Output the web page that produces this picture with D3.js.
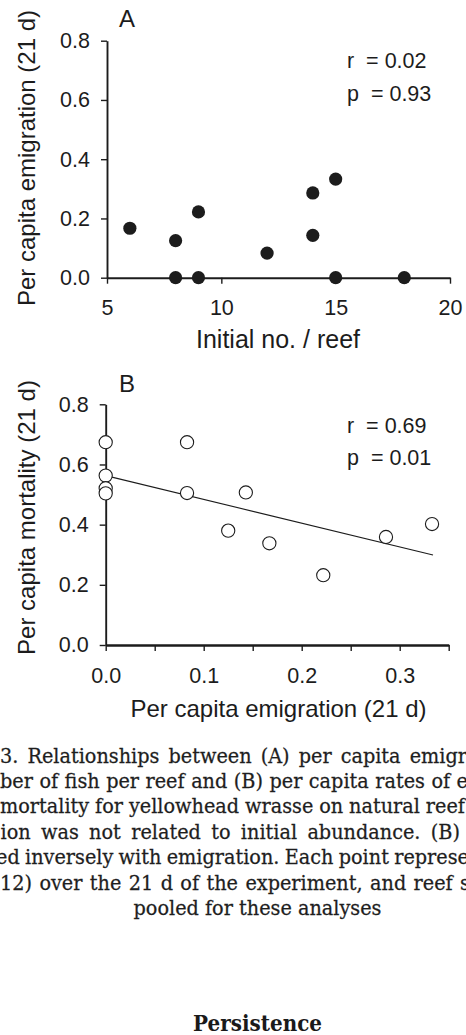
<!DOCTYPE html>
<html><head><meta charset="utf-8">
<script src="https://cdn.jsdelivr.net/npm/d3@7"></script>
<style>
html,body{margin:0;padding:0;background:#fff;overflow:hidden;}
svg{display:block;}
</style></head><body>
<svg id="chart" width="466" height="1035"></svg>
<script>
// ---------- data ----------
// Panel A: per capita emigration vs initial number per reef
const initialNo   = [6, 8, 8, 9, 9, 12, 14, 14, 15, 15, 18];
const emigrationA = [0.167, 0.125, 0, 0.222, 0, 0.083, 0.286, 0.143, 0.333, 0, 0];
// Panel B: per capita mortality vs per capita emigration
const emigrationB = [0, 0, 0, 0, 0.083, 0.083, 0.125, 0.143, 0.167, 0.222, 0.286, 0.333];
const mortalityB  = [0.674, 0.563, 0.521, 0.504, 0.674, 0.505, 0.380, 0.507, 0.338, 0.232, 0.359, 0.402];
// fitted regression line
const fitX = [0, 0.334];
const fitY = [0.563, 0.299];
// ticks
const yTicks   = [0, 0.2, 0.4, 0.6, 0.8];
const xTicksA  = [5, 10, 15, 20];
const xTicksB  = [0, 0.1, 0.2, 0.3];
const xMinorB  = [0.05, 0.15, 0.25, 0.35];
// texts
const statsA = ["r  = 0.02", "p  = 0.93"];
const statsB = ["r  = 0.69", "p  = 0.01"];
const yTitleA = "Per capita emigration (21 d)";
const xTitleA = "Initial no. / reef";
const yTitleB = "Per capita mortality (21 d)";
const xTitleB = "Per capita emigration (21 d)";
const captionLines = [
  "3. Relationships between (A) per capita emigr",
  "ber of fish per reef and (B) per capita rates of e",
  "mortality for yellowhead wrasse on natural reef",
  "ion was not related to initial abundance. (B)",
  "ed inversely with emigration. Each point represe",
  "12) over the 21 d of the experiment, and reef s",
  "pooled for these analyses"
];
const heading = "Persistence";

// ---------- drawing ----------
const svg = d3.select("#chart");
const SANS = "'Liberation Sans', Arial, sans-serif";
const SERIF = "'DejaVu Serif', serif";
const INK = "#1c1c1c";

function styleAxis(g){
  g.select(".domain").attr("stroke", INK).attr("stroke-width", 1.9);
  g.selectAll(".tick line").attr("stroke", INK).attr("stroke-width", 1.4);
  g.selectAll(".tick text").attr("fill", INK).style("font-family", SANS).style("font-size", "21.5px");
}

// Panel A
const xA = d3.scaleLinear().domain([5, 20]).range([107, 450]);
const yA = d3.scaleLinear().domain([0, 0.8]).range([277.7, 40.7]);

svg.append("g").attr("transform", `translate(0,${yA(0)})`)
  .call(d3.axisBottom(xA).tickValues(xTicksA).tickFormat(d3.format("d"))
        .tickSize(6).tickSizeOuter(0).tickPadding(16))
  .call(styleAxis);
svg.append("g").attr("transform", `translate(${xA(5)},0)`)
  .call(d3.axisLeft(yA).tickValues(yTicks).tickFormat(d3.format(".1f"))
        .tickSize(6).tickSizeOuter(0).tickPadding(11))
  .call(styleAxis);

svg.append("g").selectAll("circle").data(initialNo).join("circle")
  .attr("cx", (d) => xA(d))
  .attr("cy", (d, i) => yA(emigrationA[i]))
  .attr("r", 6.6).attr("fill", INK);

svg.append("text").attr("x", 119).attr("y", 27).text("A")
  .style("font-family", SANS).style("font-size", "24px").attr("fill", INK);
svg.append("g").selectAll("text").data(statsA).join("text")
  .attr("x", 347).attr("y", (d, i) => 68 + i * 33)
  .style("white-space", "pre").style("font-family", SANS).style("font-size", "21.5px")
  .attr("fill", INK).text(d => d);
svg.append("text").attr("transform", "translate(34.5,158) rotate(-90)")
  .attr("text-anchor", "middle").text(yTitleA)
  .style("font-family", SANS).style("font-size", "24px").attr("fill", INK);
svg.append("text").attr("x", 278).attr("y", 348).attr("text-anchor", "middle").text(xTitleA)
  .style("font-family", SANS).style("font-size", "25px").attr("fill", INK);

// Panel B
const xB = d3.scaleLinear().domain([0, 0.35]).range([105.7, 448.7]);
const yB = d3.scaleLinear().domain([0, 0.8]).range([645, 404.3]);

svg.append("g").attr("transform", `translate(0,${yB(0)})`)
  .call(d3.axisBottom(xB).tickValues(xMinorB).tickFormat(() => "")
        .tickSize(6).tickSizeOuter(0))
  .call(styleAxis);
svg.append("g").attr("transform", `translate(0,${yB(0)})`)
  .call(d3.axisBottom(xB).tickValues(xTicksB).tickFormat(d3.format(".1f"))
        .tickSize(6).tickSizeOuter(0).tickPadding(17))
  .call(styleAxis);
svg.append("g").attr("transform", `translate(${xB(0)},0)`)
  .call(d3.axisLeft(yB).tickValues(yTicks).tickFormat(d3.format(".1f"))
        .tickSize(6).tickSizeOuter(0).tickPadding(11))
  .call(styleAxis);

svg.append("path")
  .datum(fitX.map((x, i) => [x, fitY[i]]))
  .attr("d", d3.line().x(d => xB(d[0])).y(d => yB(d[1])))
  .attr("fill", "none").attr("stroke", INK).attr("stroke-width", 1.1);

svg.append("g").selectAll("circle").data(emigrationB).join("circle")
  .attr("cx", d => xB(d))
  .attr("cy", (d, i) => yB(mortalityB[i]))
  .attr("r", 6.6).attr("fill", "#fff").attr("stroke", INK).attr("stroke-width", 1.1);

svg.append("text").attr("x", 119).attr("y", 392).text("B")
  .style("font-family", SANS).style("font-size", "24px").attr("fill", INK);
svg.append("g").selectAll("text").data(statsB).join("text")
  .attr("x", 347).attr("y", (d, i) => 433 + i * 32)
  .style("white-space", "pre").style("font-family", SANS).style("font-size", "21.5px")
  .attr("fill", INK).text(d => d);
svg.append("text").attr("transform", "translate(34.5,517.5) rotate(-90)")
  .attr("text-anchor", "middle").text(yTitleB)
  .style("font-family", SANS).style("font-size", "24px").attr("fill", INK);
svg.append("text").attr("x", 278.5).attr("y", 717).attr("text-anchor", "middle").text(xTitleB)
  .style("font-family", SANS).style("font-size", "24px").attr("fill", INK);

// ---------- caption ----------
function measure(txt, size, weight){
  const t = svg.append("text").style("font-family", SERIF).style("font-size", size + "px")
    .style("font-weight", weight || "normal").text(txt);
  const w = t.node().getComputedTextLength();
  t.remove();
  return w;
}
const capSize = 19.8;
const sx = 248 / measure(captionLines[6], capSize);   // horizontal condensation
const capG = svg.append("g").attr("fill", "#1e1e1e")
  .attr("stroke", "#1e1e1e").attr("stroke-width", 0.25)
  .attr("transform", `scale(${sx},1)`)
  .style("font-family", SERIF).style("font-size", capSize + "px");
const capBase = [763, 788.3, 813.5, 839, 864.3, 889.6, 915];
const capSpan = [[0, 467], [0, 468], [0, 465], [0.5, 460], [-4, 469], [0, 470]];
captionLines.forEach((line, li) => {
  const t = capG.append("text").attr("y", capBase[li]);
  if (li === 6) {
    t.attr("x", 257.5 / sx).attr("text-anchor", "middle").text(line);
    return;
  }
  const words = line.split(" ");
  const widths = words.map(w => measure(w, capSize) * sx);
  const [x0, x1] = capSpan[li];
  const gap = (x1 - x0 - d3.sum(widths)) / (words.length - 1);
  let x = x0;
  words.forEach((w, i) => {
    t.append("tspan").attr("x", x / sx).text(w);
    x += widths[i] + gap;
  });
});
const headSize = 21.5;
const hsx = 129 / measure(heading, headSize, "bold");
svg.append("text").attr("transform", `scale(${hsx},1)`)
  .attr("x", 257.5 / hsx).attr("y", 1031).attr("text-anchor", "middle")
  .style("font-family", SERIF).style("font-weight", "bold").style("font-size", headSize + "px")
  .attr("fill", "#1a1a1a").text(heading);
</script>
</body></html>
